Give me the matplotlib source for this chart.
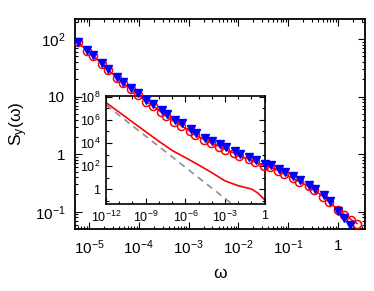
import matplotlib
matplotlib.use("Agg")
import matplotlib.pyplot as plt
import numpy as np
from matplotlib.ticker import LogLocator, FixedLocator, FixedFormatter, NullFormatter

plt.rcParams['font.family'] = ['Liberation Sans', 'DejaVu Sans']
plt.rcParams['mathtext.fontset'] = 'custom'
plt.rcParams['mathtext.rm'] = 'Liberation Sans'
plt.rcParams['mathtext.it'] = 'Liberation Sans:italic'
plt.rcParams['mathtext.default'] = 'regular'

# ---- main data ----
omega_tri = [6.0e-6, 9.1e-6, 1.2e-5, 1.82e-5, 2.41e-5, 3.65e-5, 4.82e-5, 6.97e-5, 9.64e-5,
             1.40e-4, 1.93e-4, 2.88e-4, 3.63e-4, 5.33e-4, 7.26e-4, 1.10e-3, 1.41e-3, 2.13e-3,
             2.91e-3, 4.28e-3, 5.64e-3, 8.55e-3, 1.08e-2, 1.66e-2, 2.25e-2, 3.42e-2, 4.46e-2,
             6.53e-2, 8.63e-2, 0.126, 0.173, 0.262, 0.345, 0.524, 0.690, 1.01, 1.34, 1.74]
S_tri = [89.8, 64.4, 52.7, 38.3, 30.1, 22.1, 18.1, 14.1, 11.5,
         8.69, 7.41, 5.82, 4.97, 4.01, 3.42, 2.72, 2.34, 1.95,
         1.70, 1.48, 1.31, 1.13, 1.00, 0.897, 0.787, 0.689, 0.644,
         0.564, 0.492, 0.414, 0.363, 0.297, 0.253, 0.194, 0.152, 0.103, 0.078, 0.058]

omega_circ = [6.0e-6, 9.1e-6, 1.2e-5, 1.82e-5, 2.41e-5, 3.65e-5, 4.82e-5, 6.97e-5, 9.64e-5,
              1.40e-4, 1.93e-4, 2.80e-4, 3.53e-4, 5.18e-4, 7.05e-4, 1.07e-3, 1.37e-3, 2.07e-3,
              2.83e-3, 4.16e-3, 5.48e-3, 8.31e-3, 1.05e-2, 1.61e-2, 2.19e-2, 3.32e-2, 4.33e-2,
              6.35e-2, 8.39e-2, 0.122, 0.168, 0.255, 0.335, 0.509, 0.671, 1.01, 1.34, 1.82, 2.40]
S_circ = [88.5, 63.0, 51.5, 37.2, 29.2, 21.3, 17.3, 13.4, 10.9,
          8.15, 6.90, 5.40, 4.60, 3.70, 3.15, 2.50, 2.15, 1.79,
          1.56, 1.36, 1.20, 1.04, 0.920, 0.825, 0.724, 0.634, 0.592,
          0.519, 0.453, 0.381, 0.334, 0.275, 0.236, 0.182, 0.145, 0.109, 0.0893, 0.0731, 0.0624]

omega_line = [5.25e-6] + omega_circ
S_line = [98.0] + S_circ

# ---- inset data ----
omega_in = [1e-12, 1e-11, 1e-10, 1e-9, 1e-8, 1e-7, 1e-6, 1e-5, 1e-4, 1e-3, 1e-2, 1e-1, 3e-1, 1.0]
S_in = [3.0e7, 4.5e6, 6.5e5, 9.5e4, 1.4e4, 2.3e3, 5.6e2, 1.3e2, 2.8e1, 5.5, 2.1, 1.1, 0.5, 0.13]
omega_dash = [1e-12, 1.0]
S_dash = [1.9e7, 3.5e-4]

main_xticks = [1e-5, 1e-4, 1e-3, 1e-2, 1e-1, 1]
main_xlabels = ['$10^{-5}$', '$10^{-4}$', '$10^{-3}$', '$10^{-2}$', '$10^{-1}$', '1']
main_yticks = [1e-1, 1, 10, 100]
main_ylabels = ['$10^{-1}$', '1', '10', '$10^{2}$']
in_xticks = [1e-12, 1e-9, 1e-6, 1e-3, 1]
in_xlabels = ['$10^{-12}$', '$10^{-9}$', '$10^{-6}$', '$10^{-3}$', '1']
in_yticks = [1, 1e2, 1e4, 1e6, 1e8]
in_ylabels = ['1', '$10^{2}$', '$10^{4}$', '$10^{6}$', '$10^{8}$']

fig = plt.figure(figsize=(3.74, 2.91), dpi=100)
fig.patch.set_facecolor('white')

ax = fig.add_axes([75/374, 1-229/291, (365-75)/374, (229-19)/291])
axi = fig.add_axes([106/374, 1-204/291, (264.7-106)/374, (204-96)/291])
ax.set_zorder(2)
ax.patch.set_visible(False)
axi.set_zorder(1)

red = '#ff0000'
blue = '#0000ff'

ax.plot(omega_line, S_line, '-', color=red, lw=1.1, zorder=3)
ax.plot(omega_circ, S_circ, 'o', mfc='none', mec=red, mew=1.1, ms=5.8, zorder=4)
ax.plot(omega_tri, S_tri, 'v', color=blue, mec=blue, ms=5.2, zorder=5)

ax.set_xscale('log')
ax.set_yscale('log')
ax.set_xlim(10**-5.28, 10**0.54)
ax.set_ylim(10**-1.30, 10**2.35)
ax.xaxis.set_major_locator(FixedLocator(main_xticks))
ax.xaxis.set_major_formatter(FixedFormatter(main_xlabels))
ax.yaxis.set_major_locator(FixedLocator(main_yticks))
ax.yaxis.set_major_formatter(FixedFormatter(main_ylabels))
ax.xaxis.set_minor_locator(LogLocator(base=10, subs=np.arange(2, 10), numticks=50))
ax.yaxis.set_minor_locator(LogLocator(base=10, subs=np.arange(2, 10), numticks=50))
ax.xaxis.set_minor_formatter(NullFormatter())
ax.yaxis.set_minor_formatter(NullFormatter())
ax.tick_params(which='both', direction='in', top=True, right=True, width=0.8, labelsize=11)
ax.tick_params(which='major', length=5, pad=7)
ax.tick_params(which='minor', length=2.5)
for s in ax.spines.values():
    s.set_linewidth(1.3)
ax.set_xlabel('ω', fontsize=12.5, labelpad=6)
ax.set_ylabel('$S_y(ω)$', fontsize=12.5, labelpad=3)

axi.plot(omega_in, S_in, '-', color=red, lw=1.2)
axi.plot(omega_dash, S_dash, '--', color='#909090', lw=1.2, dashes=(4, 3))
axi.set_xscale('log')
axi.set_yscale('log')
axi.set_xlim(1e-12, 1)
axi.set_ylim(10**-1.25, 10**8.05)
axi.xaxis.set_major_locator(FixedLocator(in_xticks))
axi.xaxis.set_major_formatter(FixedFormatter(in_xlabels))
axi.yaxis.set_major_locator(FixedLocator(in_yticks))
axi.yaxis.set_major_formatter(FixedFormatter(in_ylabels))
axi.xaxis.set_minor_locator(LogLocator(base=10, subs=[1.0], numticks=50))
axi.yaxis.set_minor_locator(LogLocator(base=10, subs=[1.0], numticks=50))
axi.xaxis.set_minor_formatter(NullFormatter())
axi.yaxis.set_minor_formatter(NullFormatter())
axi.tick_params(which='both', direction='in', top=True, right=True, width=0.8, labelsize=9)
axi.tick_params(which='major', length=4, pad=4)
axi.tick_params(which='minor', length=2)
for s in axi.spines.values():
    s.set_linewidth(1.2)

fig.savefig('out.png', dpi=100, facecolor='white')
